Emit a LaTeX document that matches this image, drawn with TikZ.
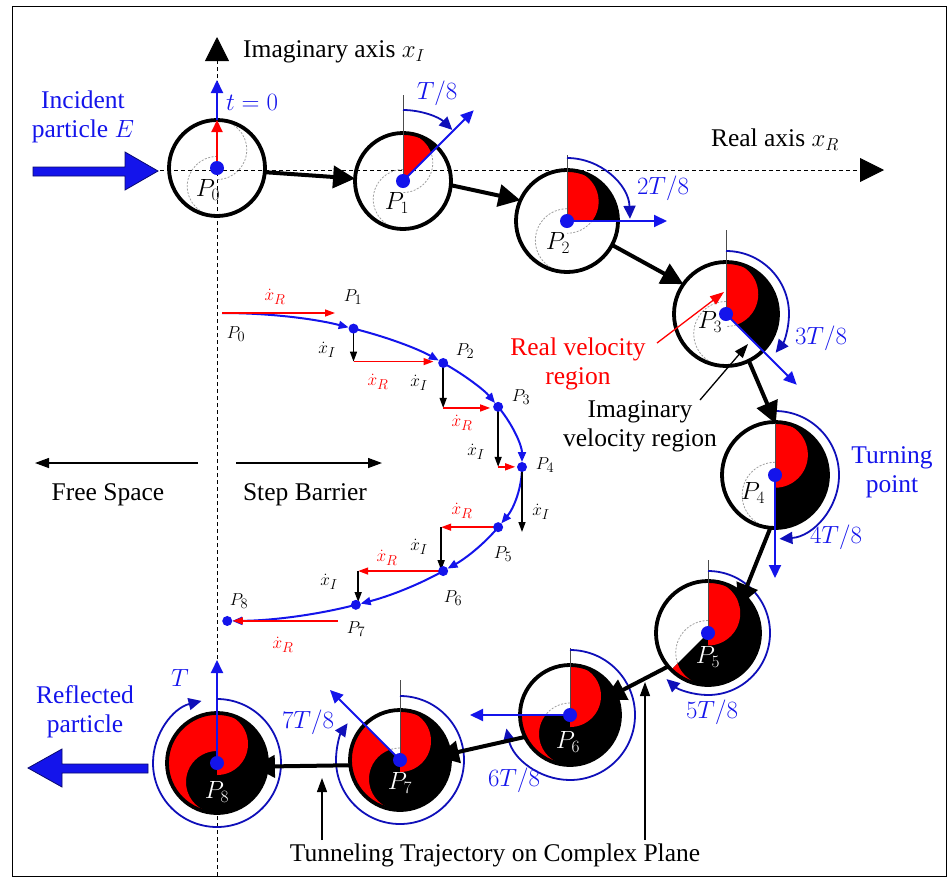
\documentclass[tikz,border=0pt]{standalone}
\usepackage{fontspec}
\setmainfont{Liberation Serif}
\usetikzlibrary{arrows.meta,calc}
\definecolor{tblue}{RGB}{20,20,235}
\definecolor{arcblue}{RGB}{15,15,185}
\definecolor{vred}{RGB}{255,0,0}
\begin{document}
\begin{tikzpicture}[x=1pt,y=-1pt,
  maintxt/.style={inner sep=0pt, align=center, font=\fontsize{25.5}{29}\selectfont},
  bluetxt/.style={maintxt, text=tblue},
  redtxt/.style={maintxt, text=vred},
  plab/.style={inner sep=0pt, font=\fontsize{25}{28}\selectfont},
  smalltxt/.style={inner sep=0pt, font=\fontsize{19}{22}\selectfont},
  axisline/.style={draw=black, line width=0.9pt, dash pattern=on 4pt off 3pt, -{Triangle[length=24pt,width=24pt]}},
  scurve/.style={draw=gray!75, line width=0.8pt, dash pattern=on 2pt off 1.5pt},
  discring/.style={circle, draw=black, line width=3.8pt, inner sep=0pt, outer sep=0pt},
  refline/.style={draw=gray!60!black, line width=1pt},
  phasor/.style={draw=tblue, line width=2pt, -{Triangle[length=13pt,width=12pt]}},
  sweeparc/.style={draw=arcblue, line width=1.8pt, -{Triangle[length=13pt,width=12pt]}},
  conn/.style={draw=black, line width=4pt, -{Triangle[length=22pt,width=22pt]}},
  hub/.style={fill=tblue},
  trajseg/.style={draw=tblue, line width=2pt, shorten >=5pt, -{Triangle[length=10pt,width=8pt]}},
  vR/.style={draw=vred, line width=1.4pt, -{Triangle[length=10pt,width=7pt]}},
  vI/.style={draw=black, line width=1.4pt, -{Triangle[length=10pt,width=7pt]}},
  pointer/.style={draw=black, line width=1.3pt, -{Triangle[length=14pt,width=10pt]}},
  redpointer/.style={draw=vred, line width=1.3pt, -{Triangle[length=14pt,width=10pt]}},
]
\useasboundingbox (0,0) rectangle (950,879);
\draw[line width=1pt] (12,6) rectangle (946,876);

% complex-plane axes
\coordinate (ax0) at (160,170);
\coordinate (ax1) at (884,170);
\coordinate (ay0) at (217,876);
\coordinate (ay1) at (217,37);
\draw[axisline] (ax0) -- (ax1);
\draw[axisline] (ay0) -- (ay1);
\node[maintxt, anchor=west] (imaxis) at (243,52) {Imaginary axis $x_I$};
\node[maintxt] (reaxis) at (775,140) {Real axis $x_R$};

% phase discs: swept sector of a red/black yin-yang pattern
% (lobes: circles of radius 0.62R centred 0.38R above / below the hub)
\foreach \k/\cx/\cy/\R in {0/217/168/48, 1/403/181/48, 2/567/221/51, 3/726/314/52,
  4/775/475/53, 5/708/633/52, 6/570/715/50, 7/400/760/50, 8/217/763/50}
{
  \pgfmathsetmacro\th{45*\k}
  \pgfmathsetmacro\Rc{\R+4}
  \pgfmathsetmacro\rl{0.62*\R}
  \pgfmathsetmacro\yl{0.24*\R}
  \begin{scope}[shift={(\cx,\cy)}]
    \draw[scurve] (0,-\R) arc[start angle=-90,end angle=90,radius=\rl];
    \draw[scurve] (0,-\yl) arc[start angle=270,end angle=90,radius=\rl];
    \ifnum\k>0
    \begin{scope}
      \clip (0,0) -- (-90:\Rc) arc[start angle=-90,end angle=-90+\th,radius=\Rc] -- cycle;
      \fill[black] (0,0) circle[radius=\R];
      \fill[vred] (0,-\R) arc[start angle=-90,end angle=90,radius=\rl]
                  -- (0,-\yl) arc[start angle=270,end angle=90,radius=\rl]
                  arc[start angle=90,end angle=270,radius=\R] -- cycle;
    \end{scope}
    \fi
    \node[discring, minimum size=2*\R] (c\k) at (0,0) {};
  \end{scope}
}

% reference lines (phase zero)
\foreach \k/\L in {1/86, 2/66, 3/84, 4/75, 5/73, 6/67, 7/80}
  \draw[refline] (c\k.center) -- ++(0,-\L);

% phasors
\draw[vR, line width=2pt, -{Triangle[length=12pt,width=11pt]}] (c0.center) -- (c0.north);
\draw[phasor] (c0.north) -- ++(0,-40);
\foreach \k/\len in {1/100, 2/100, 3/100, 4/103, 6/100, 7/99, 8/103}
  \draw[phasor] (c\k.center) -- ++(-90+45*\k:\len);

% elapsed-time arcs
\foreach \k/\rho/\e in {1/71/44, 2/63/88, 3/63/128, 4/64/176, 5/62/222, 6/65/258, 7/64/305, 8/64/346}
  \draw[sweeparc] ($(c\k)+(-90:\rho)$) arc[start angle=-90,end angle=-90+\e,radius=\rho];

% moves between successive states
\draw[conn] (c0.-5) -- (c1.177);
\draw[conn] (c1.-5) -- (c2.156);
\draw[conn] (c2.-28) -- (c3.145);
\draw[conn, shorten >=-2pt] (c3.-64) -- (c4.90);
\draw[conn, shorten >=-12pt] (c4.-95) -- (c5.47);
\draw[conn, shorten >=-13pt] (c5.220) -- (c6.25);
\draw[conn, shorten >=-13pt] (c6.206) -- (c7.7);
\draw[conn, shorten >=-14pt] (c7.186) -- (c8.-4);

% hubs and state labels
\foreach \k/\lx/\ly/\lc in {0/-9/22/black, 1/-6/22/black, 2/-9/22/black, 3/-16/8/black,
  4/-22/18/black, 5/0/24/white, 6/-2/27/white, 7/0/23/white, 8/0/29/white}
{
  \fill[hub] (c\k) circle[radius=7];
  \node[plab, text=\lc] (pl\k) at ($(c\k)+(\lx,\ly)$) {$P_{\k}$};
}

% time labels
\node[bluetxt] (t0) at (252,102) {$t=0$};
\node[bluetxt] (t1) at (437,93) {$T/8$};
\node[bluetxt] (t2) at (663,188) {$2T/8$};
\node[bluetxt] (t3) at (821,338) {$3T/8$};
\node[bluetxt] (t4) at (836,537) {$4T/8$};
\node[bluetxt] (t5) at (712,712) {$5T/8$};
\node[bluetxt] (t6) at (514,780) {$6T/8$};
\node[bluetxt] (t7) at (308,722) {$7T/8$};
\node[bluetxt] (t8) at (180,678) {$T$};
\node[bluetxt] (turn) at (892,472) {Turning\\point};

% incident and reflected particles
\node[bluetxt] (inc) at (83,117) {Incident\\particle $E$};
\node[bluetxt] (refl) at (85,712) {Reflected\\particle};
\filldraw[fill=tblue, draw=arcblue!60!black, line width=0.8pt]
  (33,167) -- (125,167) -- (125,152) -- (158,171) -- (125,190) -- (125,176) -- (33,176) -- cycle;
\filldraw[fill=tblue, draw=arcblue!60!black, line width=0.8pt]
  (148,764) -- (62,764) -- (62,749) -- (28,768) -- (62,787) -- (62,773) -- (148,773) -- cycle;

% velocity region callouts
\node[redtxt] (rvtxt) at (578,364) {Real velocity\\region};
\node[maintxt] (ivtxt) at (640,426) {Imaginary\\velocity region};
\coordinate (rvfoot) at (657,343);
\coordinate (rvtip) at (724,292);
\coordinate (ivfoot) at (700,400);
\coordinate (ivtip) at (748,344);
\draw[redpointer] (rvfoot) -- (rvtip);
\draw[pointer] (ivfoot) -- (ivtip);

% free space / step barrier
\coordinate (fs0) at (198,463);
\coordinate (fs1) at (35,463);
\coordinate (sb0) at (236,463);
\coordinate (sb1) at (382,463);
\draw[pointer] (fs0) -- (fs1);
\draw[pointer] (sb0) -- (sb1);
\node[maintxt] (fstxt) at (108,495) {Free Space};
\node[maintxt] (sbtxt) at (305,495) {Step Barrier};

% caption with pointers
\node[maintxt] (cap) at (495,855) {Tunneling Trajectory on Complex Plane};
\coordinate (cpA0) at (322,840);
\coordinate (cpA1) at (322,778);
\coordinate (cpB0) at (645,840);
\coordinate (cpB1) at (645,682);
\draw[pointer] (cpA0) -- (cpA1);
\draw[pointer] (cpB0) -- (cpB1);

% trajectory sketch on the complex plane
\foreach \k/\t in {0/-90, 1/-64, 2/-42.5, 3/-23, 4/0, 5/23, 6/42.5, 7/63.5, 8/89}
  \coordinate (q\k) at ($(222,467)+(\t:300 and 154)$);
\foreach \a/\b/\ta/\tb in {0/1/-90/-64, 1/2/-64/-42.5, 2/3/-42.5/-23, 3/4/-23/0,
  4/5/0/23, 5/6/23/42.5, 6/7/42.5/63.5, 7/8/63.5/89}
  \draw[trajseg] (q\a) arc[start angle=\ta,end angle=\tb,x radius=300,y radius=154];

\draw[vR] (q0) -- ++(113,0);
\draw[vI] (q1) -- ++(0,33) coordinate (a1);
\draw[vR] (a1) -- ++(80,0);
\draw[vI] (q2) -- ++(0,45) coordinate (a2);
\draw[vR] (a2) -- ++(47,0);
\draw[vI] (q3) -- ++(0,60) coordinate (a3);
\draw[vR] (a3) -- ++(17,0);
\draw[vI] (q4) -- ++(0,65);
\draw[vR] (q5) -- ++(-57,0) coordinate (a5);
\draw[vI] (a5) -- ++(0,43);
\draw[vR] (q6) -- ++(-85,0) coordinate (a6);
\draw[vI] (a6) -- ++(0,31);
\coordinate (a7) at ($(q7)+(-18,16)$);
\draw[vR] (a7) -- ++(-105,0);

\foreach \k in {1,...,8}
  \fill[hub] (q\k) circle[radius=5];

\foreach \k/\x/\y in {0/236/334, 1/353/297, 2/465/351, 3/521/397, 4/545/465,
  5/503/554, 6/453/598, 7/356/629, 8/239/601}
  \node[smalltxt] (ql\k) at (\x,\y) {$P_{\k}$};
\foreach \n/\x/\y in {0/275/297, 1/378/382, 2/462/423, 5/462/511, 6/387/558, 7/283/645}
  \node[smalltxt, text=vred] (xr\n) at (\x,\y) {$\dot{x}_R$};
\foreach \n/\x/\y in {1/327/350, 2/419/383, 3/476/452, 4/541/512, 5/419/547, 6/329/582}
  \node[smalltxt] (xi\n) at (\x,\y) {$\dot{x}_I$};
\end{tikzpicture}
\end{document}
